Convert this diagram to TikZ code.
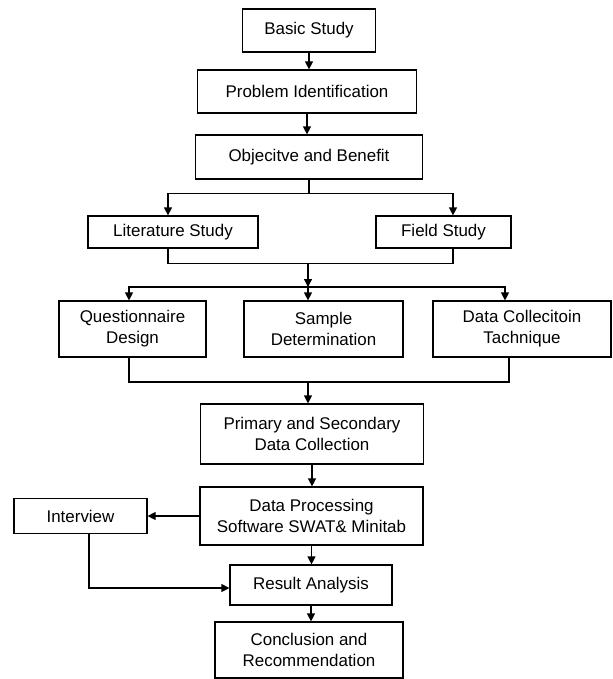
\documentclass[tikz,border=0pt]{standalone}
\usepackage{fontspec}
\setmainfont{Liberation Sans}
\usetikzlibrary{arrows.meta,calc}

\tikzset{
  boxnode/.style={draw,line width=0.9pt,inner sep=0pt,align=center,
    font=\fontsize{12.7pt}{15.7pt}\selectfont},
  arr/.style={line width=0.9pt,-{Triangle[length=6pt,width=6pt]}},
  ln/.style={line width=0.9pt}
}

\begin{document}
\begin{tikzpicture}[x=0.75pt,y=0.75pt,yscale=-1,xscale=1]
\useasboundingbox (0,0) rectangle (612,679);

%Shape: Rectangle [Basic Study]
\node [boxnode,minimum width=133*0.75pt,minimum height=43*0.75pt] (basic) at (309,30.5) {Basic Study};
%Shape: Rectangle [Problem Identification]
\node [boxnode,minimum width=219*0.75pt,minimum height=43*0.75pt] (problem) at (307,91.5) {Problem Identification};
%Shape: Rectangle [Objective]
\node [boxnode,minimum width=227*0.75pt,minimum height=44*0.75pt] (objective) at (309,157) {Objecitve and Benefit};
%Shape: Rectangle [Literature]
\node [boxnode,minimum width=170*0.75pt,minimum height=32*0.75pt] (literature) at (173,232) {Literature Study};
%Shape: Rectangle [Field]
\node [boxnode,minimum width=135*0.75pt,minimum height=32*0.75pt] (field) at (443.5,232) {Field Study};
%Shape: Rectangle [Questionnaire]
\node [boxnode,minimum width=147*0.75pt,minimum height=56*0.75pt] (questionnaire) at (132.5,329) {Questionnaire\\Design};
%Shape: Rectangle [Sample]
\node [boxnode,minimum width=159*0.75pt,minimum height=56*0.75pt] (sample) at (323.5,329) {Sample\\Determination};
%Shape: Rectangle [Technique]
\node [boxnode,minimum width=178*0.75pt,minimum height=56*0.75pt] (technique) at (522,329) {Data Collecitoin\\Tachnique};
%Shape: Rectangle [Primary]
\node [boxnode,minimum width=223*0.75pt,minimum height=60*0.75pt] (primary) at (312,434) {Primary and Secondary\\Data Collection};
%Shape: Rectangle [Processing]
\node [boxnode,minimum width=223*0.75pt,minimum height=58*0.75pt] (processing) at (311.5,516) {Data Processing\\Software SWAT\& Minitab};
%Shape: Rectangle [Interview]
\node [boxnode,minimum width=133*0.75pt,minimum height=35*0.75pt] (interview) at (80.5,516) {Interview};
%Shape: Rectangle [Result]
\node [boxnode,minimum width=162*0.75pt,minimum height=40*0.75pt] (result) at (311,585) {Result Analysis};
%Shape: Rectangle [Conclusion]
\node [boxnode,minimum width=188*0.75pt,minimum height=56*0.75pt] (conclusion) at (309,650) {Conclusion and\\Recommendation};

%Connectors
\draw [arr] (basic.south) -- (basic.south |- problem.north);
\draw [arr] (problem.south) -- (problem.south |- objective.north);
% split to literature and field
\coordinate (fork) at ($(objective.south)+(-1,14)$);
\coordinate (litin) at ($(literature.north)+(-5,0)$);
\coordinate (fieldin) at ($(field.north)+(9.5,0)$);
\draw [ln] (objective.south |- fork) -- (fork);
\draw [ln] (objective.south) -- (objective.south |- fork);
\draw [arr] (fork) -| (litin);
\draw [arr] (fork) -| (fieldin);
% join below literature and field
\coordinate (litout) at ($(literature.south)+(-5,0)$);
\coordinate (fieldout) at ($(field.south)+(9.5,0)$);
\coordinate (join) at ($(litout)+(0,15)$);
\draw [ln] (litout) -- (join) -| (fieldout);
\coordinate (trunk) at (308,263);
\coordinate (split) at (308,287);
\coordinate (qin) at ($(questionnaire.north)+(-3.5,0)$);
\coordinate (techin) at ($(technique.north)+(-17,0)$);
\draw [arr] (trunk) -- (split);
\draw [arr] (split) -| (qin);
\draw [arr] (split) -| (techin);
\draw [arr] (split) -- (split |- sample.north);
% join below the three boxes
\coordinate (merge) at (308,382);
\coordinate (qout) at ($(questionnaire.south)+(-3.5,0)$);
\coordinate (techout) at ($(technique.south)+(-13,0)$);
\draw [ln] (qout) |- (merge) -| (techout);
\draw [arr] (merge) -- (merge |- primary.north);
\draw [arr] (primary.south) -- (primary.south |- processing.north);
\draw [arr] (processing.west) -- (interview.east);
\draw [arr] (processing.south) -- (processing.south |- result.north);
\coordinate (intout) at ($(interview.south)+(8.5,0)$);
\draw [arr] (intout) |- ($(result.west)+(0,3)$);
\draw [arr] (result.south) -- (result.south |- conclusion.north);
\end{tikzpicture}
\end{document}
